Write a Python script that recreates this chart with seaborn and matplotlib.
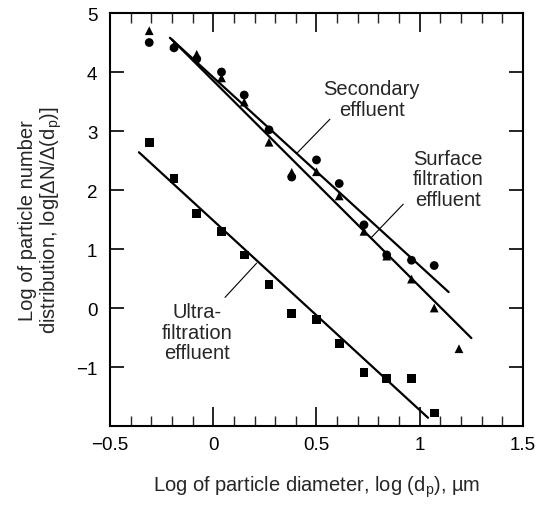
import numpy as np
import pandas as pd
import seaborn as sns
import matplotlib.pyplot as plt
from matplotlib.ticker import MultipleLocator

# Data
log_dp = [-0.31, -0.19, -0.08, 0.04, 0.15, 0.27, 0.38, 0.50, 0.61, 0.73, 0.84, 0.96, 1.07, 1.19]

secondary_x = log_dp[:13]
secondary_y = [4.50, 4.41, 4.22, 4.00, 3.61, 3.02, 2.22, 2.51, 2.11, 1.41, 0.90, 0.81, 0.72]

surface_x = log_dp
surface_y = [4.70, 4.45, 4.30, 3.90, 3.49, 2.81, 2.30, 2.31, 1.90, 1.30, 0.88, 0.49, 0.00, -0.69]

ultra_x = log_dp[:13]
ultra_y = [2.81, 2.20, 1.60, 1.30, 0.90, 0.40, -0.09, -0.19, -0.60, -1.09, -1.19, -1.19, -1.78]

# fitted lines (end points)
secondary_fit_x = [-0.21, 1.14]
secondary_fit_y = [4.58, 0.27]
surface_fit_x = [-0.20, 1.25]
surface_fit_y = [4.55, -0.51]
ultra_fit_x = [-0.36, 1.04]
ultra_fit_y = [2.64, -1.86]

x_ticks = [-0.5, 0, 0.5, 1, 1.5]
x_tick_labels = ['\u22120.5', '0', '0.5', '1', '1.5']
y_ticks = [-1, 0, 1, 2, 3, 4, 5]
y_tick_labels = ['\u22121', '0', '1', '2', '3', '4', '5']

sns.set_theme(style="ticks")
plt.rcParams['font.family'] = ['Liberation Sans', 'DejaVu Sans']
plt.rcParams['mathtext.fontset'] = 'custom'
plt.rcParams['mathtext.rm'] = 'Liberation Sans'
plt.rcParams['mathtext.it'] = 'Liberation Sans:italic'

FS = 14.5      # labels and annotations
TICK_FS = 13.5

df = pd.concat([
    pd.DataFrame({'x': secondary_x, 'y': secondary_y, 'series': 'Secondary'}),
    pd.DataFrame({'x': surface_x, 'y': surface_y, 'series': 'Surface'}),
    pd.DataFrame({'x': ultra_x, 'y': ultra_y, 'series': 'Ultra'}),
], ignore_index=True)

fig = plt.figure(figsize=(5.44, 5.06), dpi=100)
ax = fig.add_axes([0.2022, 0.1561, 0.7592, 0.8162])

sns.scatterplot(data=df, x='x', y='y', hue='series', style='series',
                markers={'Secondary': 'o', 'Surface': '^', 'Ultra': 's'},
                palette={'Secondary': 'black', 'Surface': 'black', 'Ultra': 'black'},
                s=40, edgecolor='none', legend=False, ax=ax, zorder=3)

for fx, fy in [(secondary_fit_x, secondary_fit_y),
               (surface_fit_x, surface_fit_y),
               (ultra_fit_x, ultra_fit_y)]:
    sns.lineplot(x=fx, y=fy, color='black', linewidth=1.6, ax=ax)

# annotations with leader lines
ax.text(0.767, 3.54, 'Secondary\neffluent', ha='center', va='center',
        fontsize=FS, linespacing=1.1)
ax.plot([0.565, 0.404], [3.20, 2.62], color='black', linewidth=0.8)

ax.text(1.138, 2.19, 'Surface\nfiltration\neffluent', ha='center', va='center',
        fontsize=FS, linespacing=1.1)
ax.plot([0.92, 0.767], [1.76, 1.20], color='black', linewidth=0.8)

ax.text(-0.08, -0.41, 'Ultra-\nfiltration\neffluent', ha='center', va='center',
        fontsize=FS, linespacing=1.1)
ax.plot([0.057, 0.21], [0.18, 0.76], color='black', linewidth=0.8)

ax.set_xlim(-0.5, 1.5)
ax.set_ylim(-2, 5)
ax.set_xticks(x_ticks, labels=x_tick_labels)
ax.xaxis.set_minor_locator(MultipleLocator(0.1))
ax.set_yticks(y_ticks, labels=y_tick_labels)

ax.tick_params(which='major', axis='x', direction='in', length=14, width=1.2,
               top=True, bottom=True, labelsize=TICK_FS, pad=7, colors='black')
ax.tick_params(which='minor', axis='x', direction='in', length=7, width=1.0,
               top=True, bottom=True)
ax.tick_params(which='major', axis='y', direction='in', length=10, width=1.2,
               left=True, right=True, labelsize=TICK_FS, pad=9, colors='black')

for sp in ax.spines.values():
    sp.set_color('black')
    sp.set_linewidth(1.5)
ax.set_facecolor('white')

ax.set_xlabel('Log of particle diameter, log (d$_{\\rm p}$), \u00b5m', fontsize=FS, labelpad=15)
ax.set_ylabel('Log of particle number\ndistribution, log[\u0394N/\u0394(d$_{\\rm p}$)]',
              fontsize=FS, labelpad=9, linespacing=1.05)

fig.savefig('out.png', dpi=100, facecolor='white')
